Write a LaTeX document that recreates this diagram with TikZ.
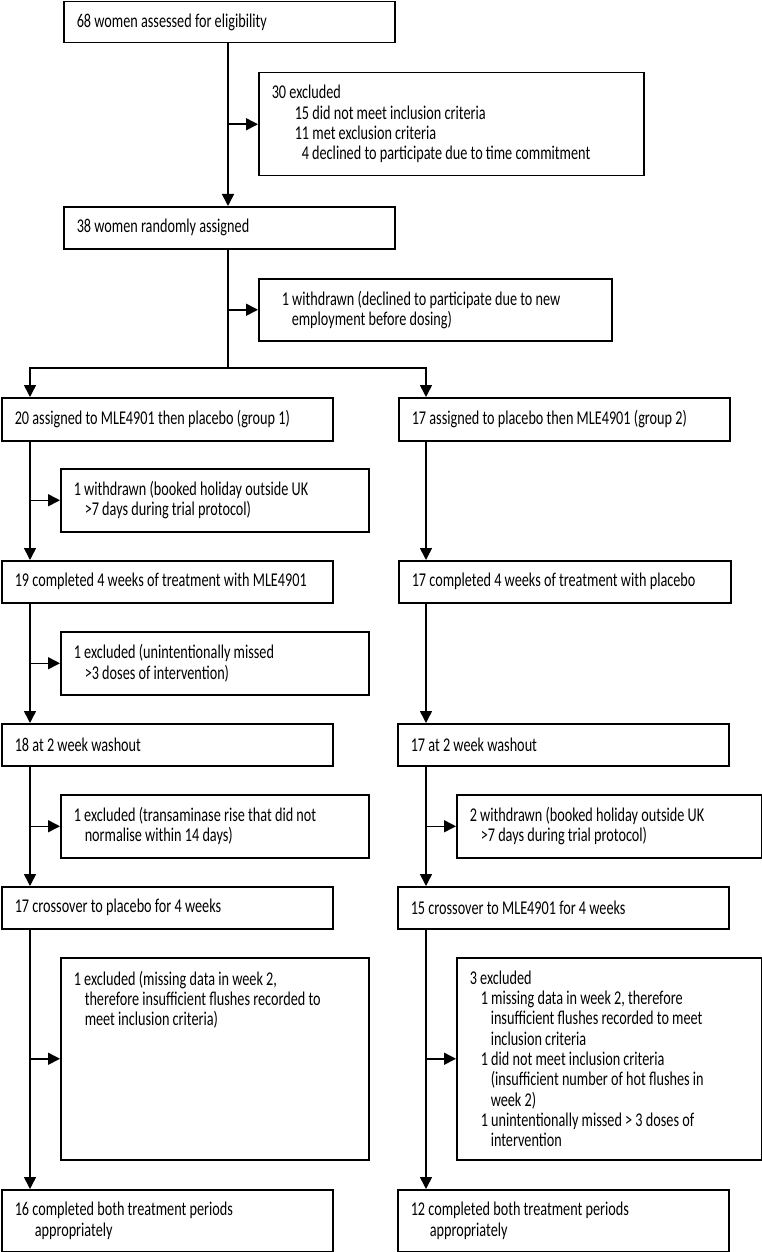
\documentclass[tikz,border=0pt]{standalone}
\usepackage{fontspec}
\setmainfont[FakeStretch=0.73]{Carlito}
\usepackage{tikz}
\usetikzlibrary{arrows.meta,positioning}

\tikzset{
  box/.style n args={2}{draw, line width=1.5pt, anchor=north west,
    inner xsep=13pt, inner ysep=0pt, text width=#1pt-26pt,
    minimum height=#2pt, align=left,
    execute at begin node={\spaceskip=3.2pt plus 1pt\relax}},
  flow/.style={line width=1.5pt, -{Triangle[length=12pt,width=12pt]}},
  link/.style={line width=1.5pt}
}
\newcommand{\ind}[1]{\hspace*{#1pt}}

\begin{document}
\begin{tikzpicture}[x=1pt,y=-1pt,
    font={\fontsize{19.5}{20.3}\selectfont}]
  \useasboundingbox (0,0) rectangle (762,1252);
  % Enrolment
  \node[box={331}{41}] (assess) at (63,1) {68 women assessed for eligibility};
  \node[box={385}{103}] (excl1) at (258,72) {30 excluded\\
    \ind{23}15 did not meet inclusion criteria\\
    \ind{23}11 met exclusion criteria\\
    \ind{30}\mbox{4 declined to participate due to time commitment}};
  \node[box={331}{42}] (rand) at (63,206) {38 women randomly assigned};
  \node[box={353}{62}] (wd1) at (258,278) {\ind{10}\mbox{1 withdrawn (declined to participate due to new}\\
    \ind{20}employment before dosing)};
  % Allocation
  \node[box={331}{43}] (g1) at (1,397) {\mbox{20 assigned to MLE4901 then placebo (group 1)}};
  \node[box={331}{43}] (g2) at (398,397) {\mbox{17 assigned to placebo then MLE4901 (group 2)}};
  % Group 1 column
  \node[box={308}{63}] (wd2) at (60,468) {1 withdrawn (booked holiday outside UK\\
    \ind{11}>7 days during trial protocol)};
  \node[box={331}{42}] (c1) at (1,560) {\mbox{19 completed 4 weeks of treatment with MLE4901}};
  \node[box={308}{63}] (ex2) at (60,631) {1 excluded (unintentionally missed\\
    \ind{11}>3 doses of intervention)};
  \node[box={331}{42}] (wa1) at (1,723) {18 at 2 week washout};
  \node[box={308}{63}] (ex3) at (60,794) {\mbox{1 excluded (transaminase rise that did not}\\
    \ind{11}normalise within 14 days)};
  \node[box={331}{42}] (x1) at (1,886) {17 crossover to placebo for 4 weeks};
  \node[box={308}{202}] (ex4) at (60,957) {\parbox[c][176pt][t]{\linewidth}{1 excluded (missing data in week 2,\\
    \ind{11}\mbox{therefore insufficient flushes recorded to}\\
    \ind{11}meet inclusion criteria)}};
  \node[box={331}{62}] (f1) at (1,1189) {16 completed both treatment periods\\
    \ind{20}appropriately};
  % Group 2 column
  \node[box={332}{42}] (c2) at (398,560) {\mbox{17 completed 4 weeks of treatment with placebo}};
  \node[box={331}{42}] (wa2) at (397,723) {17 at 2 week washout};
  \node[box={305}{63}] (wd3) at (456,794) {\mbox{2 withdrawn (booked holiday outside UK}\\
    \ind{11}>7 days during trial protocol)};
  \node[box={331}{42}] (x2) at (397,886) {15 crossover to MLE4901 for 4 weeks};
  \node[box={305}{202}] (ex5) at (456,957) {3 excluded\\
    \ind{11}1 missing data in week 2, therefore\\
    \ind{21}\mbox{insufficient flushes recorded to meet}\\
    \ind{21}inclusion criteria\\
    \ind{11}1 did not meet inclusion criteria\\
    \ind{21}\mbox{(insufficient number of hot flushes in}\\
    \ind{21}week 2)\\
    \ind{11}\mbox{1 unintentionally missed > 3 doses of}\\
    \ind{21}intervention};
  \node[box={331}{62}] (f2) at (397,1189) {12 completed both treatment periods\\
    \ind{19}appropriately};
  % Connectors
  \coordinate (split) at (228,368);
  \coordinate (lcol) at (30,0);
  \coordinate (rcol) at (426,0);
  \draw[flow] (assess.south -| split) -- (rand.north -| split);
  \draw[flow] (excl1.west -| split) -- (excl1.west);
  \draw[link] (rand.south -| split) -- (split);
  \draw[flow] (wd1.west -| split) -- (wd1.west);
  \draw[flow] (split) -| (g1.north -| lcol);
  \draw[flow] (split) -| (g2.north -| rcol);
  % left column
  \draw[flow] (g1.south -| lcol) -- (c1.north -| lcol);
  \draw[flow] (wd2.west -| lcol) -- (wd2.west);
  \draw[flow] (c1.south -| lcol) -- (wa1.north -| lcol);
  \draw[flow] (ex2.west -| lcol) -- (ex2.west);
  \draw[flow] (wa1.south -| lcol) -- (x1.north -| lcol);
  \draw[flow] (ex3.west -| lcol) -- (ex3.west);
  \draw[flow] (x1.south -| lcol) -- (f1.north -| lcol);
  \draw[flow] (ex4.west -| lcol) -- (ex4.west);
  % right column
  \draw[flow] (g2.south -| rcol) -- (c2.north -| rcol);
  \draw[flow] (c2.south -| rcol) -- (wa2.north -| rcol);
  \draw[flow] (wa2.south -| rcol) -- (x2.north -| rcol);
  \draw[flow] (wd3.west -| rcol) -- (wd3.west);
  \draw[flow] (x2.south -| rcol) -- (f2.north -| rcol);
  \draw[flow] (ex5.west -| rcol) -- (ex5.west);
\end{tikzpicture}
\end{document}
